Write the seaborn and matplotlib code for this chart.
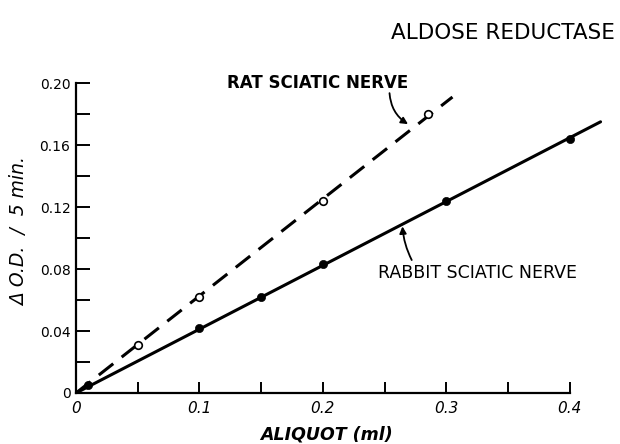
import matplotlib
matplotlib.use("Agg")
import matplotlib.pyplot as plt
import seaborn as sns
from matplotlib.ticker import MultipleLocator, FixedLocator

sns.set_style("ticks")
plt.rcParams['font.family'] = ['DejaVu Sans']
plt.rcParams['text.color'] = 'black'
plt.rcParams['axes.labelcolor'] = 'black'
plt.rcParams['xtick.color'] = 'black'
plt.rcParams['ytick.color'] = 'black'
plt.rcParams['axes.edgecolor'] = 'black'

# data
rat_x = [0.0, 0.05, 0.10, 0.20, 0.285]
rat_y = [0.0, 0.031, 0.062, 0.124, 0.180]
rabbit_x = [0.0, 0.01, 0.10, 0.15, 0.20, 0.30, 0.40]
rabbit_y = [0.0, 0.005, 0.042, 0.062, 0.083, 0.124, 0.164]
rat_fit_x = [0.0, 0.305]
rat_fit_y = [0.0, 0.191]
rabbit_fit_x = [0.0, 0.425]
rabbit_fit_y = [0.0, 0.175]
x_ticklabels = ["0", "0.1", "0.2", "0.3", "0.4"]
y_ticklabels = ["0", "0.04", "0.08", "0.12", "0.16", "0.20"]

fig = plt.figure(figsize=(6.2, 4.44), dpi=100)
ax = fig.add_axes([0.1226, 0.1149, 0.856, 0.698])

sns.lineplot(x=rabbit_fit_x, y=rabbit_fit_y, ax=ax, color="black", lw=2.2)
sns.lineplot(x=rat_fit_x, y=rat_fit_y, ax=ax, color="black", lw=2.2,
             linestyle=(0, (6, 3.5)))
sns.scatterplot(x=rabbit_x[1:], y=rabbit_y[1:], ax=ax, color="black", s=35,
                edgecolor="black", zorder=3)
sns.scatterplot(x=rat_x[1:], y=rat_y[1:], ax=ax, facecolor="white", s=30,
                edgecolor="black", linewidth=1.2, zorder=3)

ax.set_xlim(0, 0.43)
ax.set_ylim(0, 0.2)
for s in ["top", "right"]:
    ax.spines[s].set_visible(False)
ax.spines["left"].set_bounds(0, 0.2)
ax.spines["bottom"].set_bounds(0, 0.4)
ax.spines["left"].set_linewidth(1.6)
ax.spines["bottom"].set_linewidth(1.6)

ax.xaxis.set_major_locator(FixedLocator([0, 0.1, 0.2, 0.3, 0.4]))
ax.xaxis.set_minor_locator(FixedLocator([0.05, 0.15, 0.25, 0.35]))
ax.set_xticklabels(x_ticklabels, style="italic", fontsize=11)
ax.yaxis.set_major_locator(FixedLocator([0, 0.04, 0.08, 0.12, 0.16, 0.20]))
ax.yaxis.set_minor_locator(MultipleLocator(0.02))
ax.set_yticklabels(y_ticklabels, fontsize=10)
ax.tick_params(axis="both", which="both", direction="in", color="black",
               width=1.4)
ax.tick_params(axis="y", which="both", length=10, pad=4)
ax.tick_params(axis="x", which="both", length=8, pad=6)

ax.set_xlabel("ALIQUOT (ml)", style="italic", fontweight="bold", fontsize=12.5)
ax.xaxis.set_label_coords((326 - 76) / (0.856 * 620), -(435 - 393) / (0.698 * 444))
ax.set_ylabel("Δ O.D.  /  5 min.", style="italic", fontsize=13.5)
ax.yaxis.set_label_coords(-(76 - 20) / (0.856 * 620), (393 - 232) / (0.698 * 444))
ax.xaxis.label.set_va("center")
ax.yaxis.label.set_va("center")

fig.text(0.992, 0.926, "ALDOSE REDUCTASE", ha="right", va="center", fontsize=15.5)

ax.text(0.196, 0.2, "RAT SCIATIC NERVE", ha="center", va="center",
        fontsize=12, fontweight="bold")
ax.annotate("", xy=(0.269, 0.1735), xytext=(0.254, 0.1935),
            arrowprops=dict(arrowstyle="-|>", color="black", lw=1.3,
                            connectionstyle="arc3,rad=0.25", mutation_scale=10,
                            shrinkA=0, shrinkB=0))
ax.text(0.325, 0.0774, "RABBIT SCIATIC NERVE", ha="center", va="center",
        fontsize=12.5)
ax.annotate("", xy=(0.2645, 0.1075), xytext=(0.272, 0.0858),
            arrowprops=dict(arrowstyle="-|>", color="black", lw=1.3,
                            connectionstyle="arc3,rad=-0.1", mutation_scale=10,
                            shrinkA=0, shrinkB=0))

fig.savefig("out.png", dpi=100)
